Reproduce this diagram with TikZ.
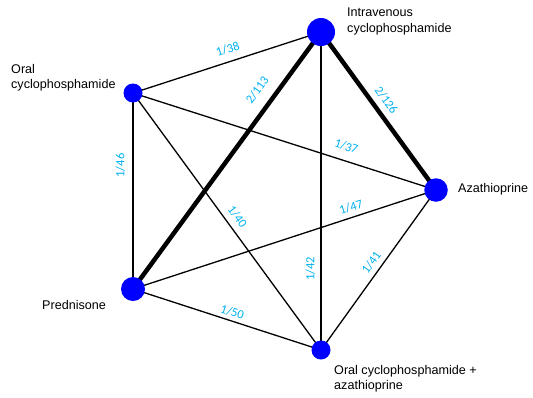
\documentclass[tikz,border=0pt]{standalone}
\usepackage{fontspec}
\setmainfont{Liberation Sans}
\newfontfamily\lblfont{Carlito}
\usetikzlibrary{backgrounds}
\definecolor{nodeblue}{RGB}{0,0,255}
\definecolor{lblblue}{RGB}{0,176,240}
\tikzset{
  vdot/.style={circle,fill=nodeblue,draw=none,inner sep=0pt,minimum size=#1},
  vtext/.style={inner sep=0pt,align=left,font=\fontsize{12.6}{15.2}\selectfont},
  thin edge/.style={draw=black,line width=1.3pt},
  thick edge/.style={draw=black,line width=4.5pt},
  lbl/.style={sloped,inner sep=2pt,text=lblblue,font=\lblfont\fontsize{12.5}{14}\selectfont},
}
\begin{document}
\begin{tikzpicture}[x=1pt,y=-1pt]
\useasboundingbox (0,0) rectangle (533,397);
% nodes
\node[vdot=28pt] (iv) at (321,32) {};
\node[vdot=19pt] (oral) at (133,93) {};
\node[vdot=23.5pt] (aza) at (436,190) {};
\node[vdot=24pt] (pred) at (133,289) {};
\node[vdot=19pt] (oa) at (321,350) {};
% names
\node[vtext,anchor=west] (ivt) at (347,21.5) {Intravenous\\cyclophosphamide};
\node[vtext,anchor=west] (oralt) at (11,78) {Oral\\cyclophosphamide};
\node[vtext,anchor=west] (azat) at (458,189) {Azathioprine};
\node[vtext,anchor=west] (predt) at (42,305) {Prednisone};
\node[vtext,anchor=west] (oat) at (334,379) {Oral cyclophosphamide +\\azathioprine};
% edges
\begin{scope}[on background layer]
\draw[thin edge] (iv.center) -- node[lbl,pos=0.476,above=5pt] {1/38} (oral.center);
\draw[thick edge] (pred.center) -- node[lbl,pos=0.735,above=8.5pt] {2/113} (iv.center);
\draw[thick edge] (iv.center) -- node[lbl,pos=0.478,above=4pt] {2/126} (aza.center);
\draw[thin edge] (oral.center) -- node[lbl,pos=0.69,above=7pt] {1/37} (aza.center);
\draw[thin edge] (pred.center) -- node[lbl,pos=0.63,above=5.5pt] {1/46} (oral.center);
\draw[thin edge] (oral.center) -- node[lbl,pos=0.507,above=4pt] {1/40} (oa.center);
\draw[thin edge] (pred.center) -- node[lbl,pos=0.73,above=3pt] {1/47} (aza.center);
\draw[thin edge] (oa.center) -- node[lbl,pos=0.255,above=3.5pt] {1/42} (iv.center);
\draw[thin edge] (oa.center) -- node[lbl,pos=0.51,above=3pt] {1/41} (aza.center);
\draw[thin edge] (pred.center) -- node[lbl,pos=0.514,above=1.5pt] {1/50} (oa.center);
\end{scope}
\end{tikzpicture}
\end{document}
